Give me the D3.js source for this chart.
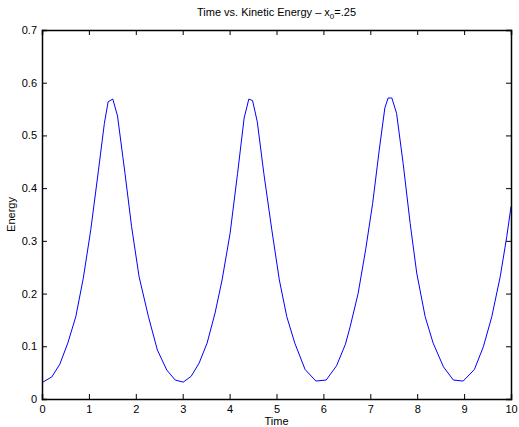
<!DOCTYPE html>
<html>
<head>
<meta charset="utf-8">
<script src="https://cdn.jsdelivr.net/npm/d3@7"></script>
<style>
  body { margin: 0; background: #fff; }
  svg text { font-family: "Liberation Sans", Arial, sans-serif; font-size: 11px; fill: #000; }
</style>
</head>
<body>
<svg id="chart" width="519" height="427"></svg>
<script>
// Temps et energie cinetique.
const timeValues = [0, 0.21, 0.38, 0.55, 0.72, 0.88, 1.04, 1.20, 1.33, 1.41, 1.51, 1.61, 1.77, 1.91, 2.07, 2.27, 2.46, 2.66, 2.84, 3.01,
    3.18, 3.35, 3.52, 3.69, 3.84, 4.01, 4.17, 4.31, 4.41, 4.49, 4.59, 4.73, 4.90, 5.06, 5.22, 5.39, 5.61, 5.84, 6.06, 6.28,
    6.47, 6.57, 6.74, 6.90, 7.05, 7.19, 7.31, 7.38, 7.46, 7.56, 7.70, 7.85, 7.99, 8.17, 8.34, 8.56, 8.77, 8.98, 9.22, 9.41,
    9.59, 9.77, 9.91, 10.0];
const energyValues = [0.031, 0.042, 0.066, 0.106, 0.156, 0.229, 0.321, 0.431, 0.523, 0.564, 0.569, 0.537, 0.428, 0.327, 0.232, 0.156, 0.093, 0.055, 0.036, 0.032,
    0.043, 0.068, 0.106, 0.163, 0.226, 0.314, 0.428, 0.533, 0.569, 0.566, 0.526, 0.428, 0.321, 0.226, 0.156, 0.106, 0.056, 0.034, 0.036, 0.063,
    0.104, 0.137, 0.200, 0.283, 0.371, 0.472, 0.552, 0.571, 0.571, 0.542, 0.447, 0.333, 0.239, 0.156, 0.106, 0.061, 0.036, 0.034, 0.056, 0.099,
    0.156, 0.232, 0.308, 0.365];

const xTicks = [0, 1, 2, 3, 4, 5, 6, 7, 8, 9, 10];
const yTicks = [0, 0.1, 0.2, 0.3, 0.4, 0.5, 0.6, 0.7];

const margin = { left: 42, right: 8, top: 30, bottom: 28 };
const width = 519 - margin.left - margin.right;
const height = 427 - margin.top - margin.bottom;

const svg = d3.select("#chart");
const g = svg.append("g").attr("transform", "translate(" + margin.left + "," + margin.top + ")");

const x = d3.scaleLinear().domain([0, 10]).range([0, width]);
const y = d3.scaleLinear().domain([0, 0.7]).range([height, 0]);

// Courbe
const points = timeValues.map(function(t, i) { return [t, energyValues[i]]; });
g.append("path")
    .datum(points)
    .attr("fill", "none")
    .attr("stroke", "#0000ff")
    .attr("stroke-width", 1)
    .attr("d", d3.line().x(function(d) { return x(d[0]); }).y(function(d) { return y(d[1]); }));

// Axes style MATLAB : ticks vers l'interieur sur les quatre cotes.
const tickLen = 5;
const fmtY = function(d) { return d === 0 ? "0" : d3.format(".1f")(d); };

const axisBottomG = g.append("g").attr("transform", "translate(0," + height + ")")
    .call(d3.axisBottom(x).tickValues(xTicks).tickSize(-tickLen).tickPadding(6).tickFormat(d3.format("d")));
const axisTopG = g.append("g")
    .call(d3.axisTop(x).tickValues(xTicks).tickSize(-tickLen).tickFormat(""));
const axisLeftG = g.append("g")
    .call(d3.axisLeft(y).tickValues(yTicks).tickSize(-tickLen).tickPadding(5).tickFormat(fmtY));
const axisRightG = g.append("g").attr("transform", "translate(" + width + ",0)")
    .call(d3.axisRight(y).tickValues(yTicks).tickSize(-tickLen).tickFormat(""));

[axisBottomG, axisTopG, axisLeftG, axisRightG].forEach(function(ax) {
    ax.select(".domain").attr("stroke", "#000").attr("stroke-width", 1.5);
    ax.selectAll(".tick line").attr("stroke", "#000").attr("stroke-width", 1);
    ax.selectAll("text").attr("font-size", 11).attr("font-family", "Liberation Sans, Arial, sans-serif").attr("fill", "#000");
});

// Titres
const title = svg.append("text")
    .attr("x", margin.left + width / 2)
    .attr("y", 16)
    .attr("text-anchor", "middle")
    .attr("font-size", 11);
title.append("tspan").text("Time vs. Kinetic Energy \u2013 x");
title.append("tspan").attr("font-size", 8).attr("dy", 3).text("0");
title.append("tspan").attr("dy", -3).text("=.25");

svg.append("text")
    .attr("x", margin.left + width / 2)
    .attr("y", 425)
    .attr("text-anchor", "middle")
    .text("Time");

svg.append("text")
    .attr("transform", "translate(15," + (margin.top + height / 2) + ") rotate(-90)")
    .attr("text-anchor", "middle")
    .text("Energy");
</script>
</body>
</html>
